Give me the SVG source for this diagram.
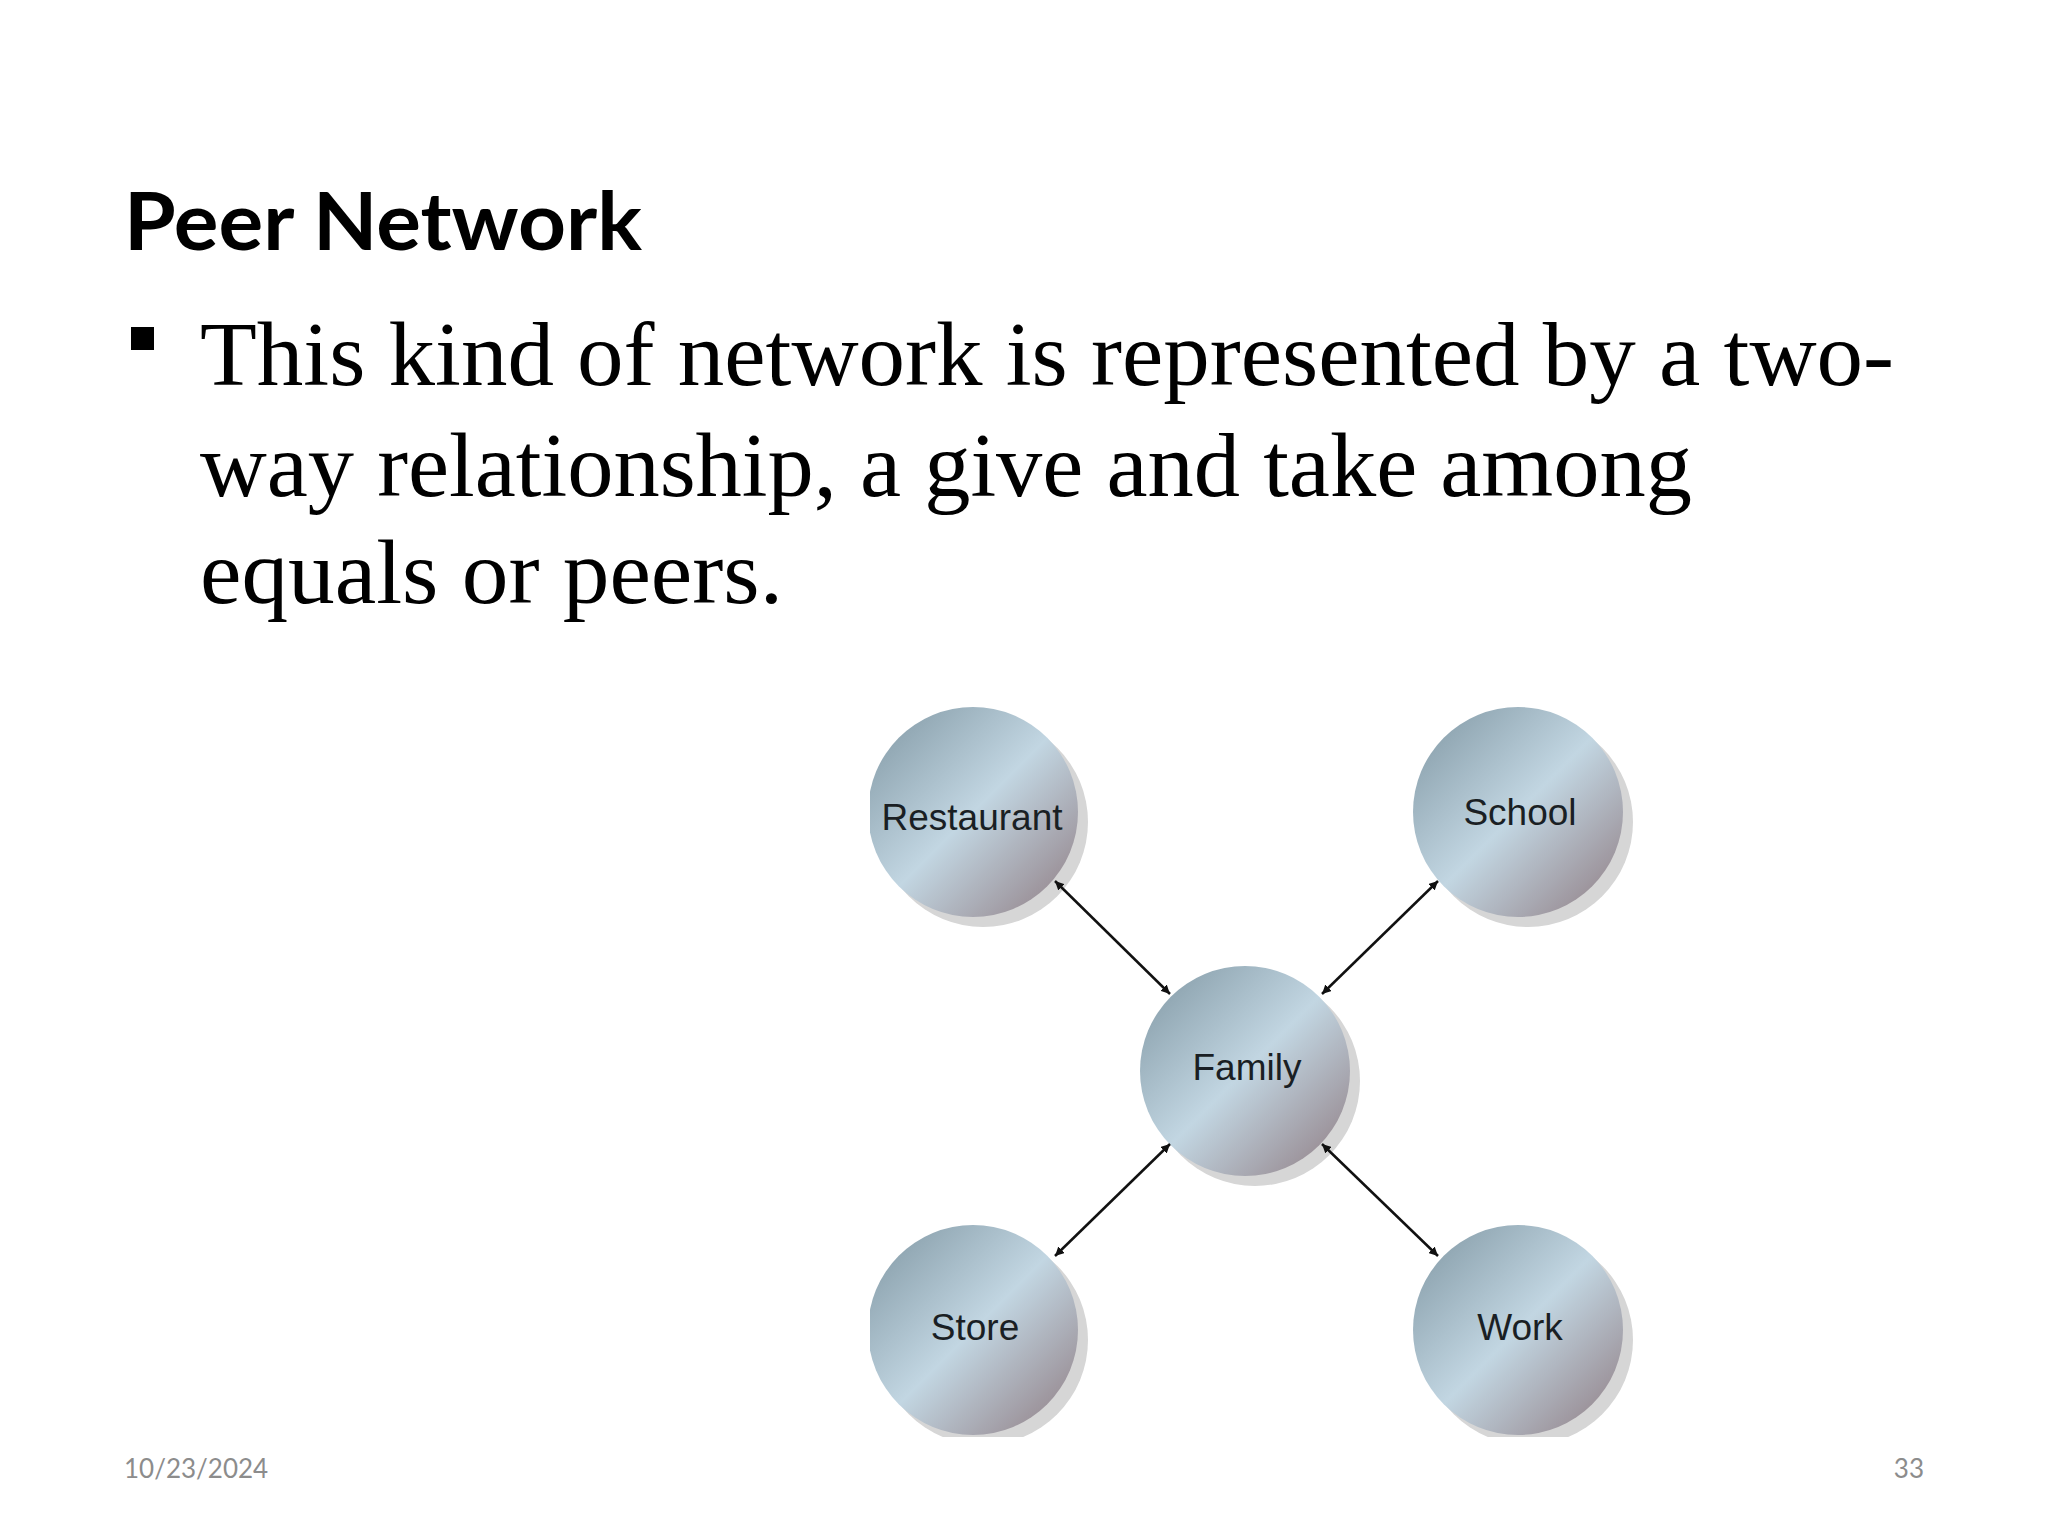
<svg xmlns="http://www.w3.org/2000/svg" width="2048" height="1536" viewBox="0 0 2048 1536">
<style>
.lbl{font-family:"Liberation Sans",Arial,sans-serif;font-size:37px;fill:#1a1f24;text-anchor:middle}
.ball{fill:url(#g)}
.sh{fill:#d6d6d6}
.con{stroke:#111;stroke-width:2.5;fill:none;marker-start:url(#a);marker-end:url(#a)}
</style>
<defs>
<linearGradient id="g" x1="0" y1="0" x2="1" y2="1">
<stop offset="0" stop-color="#7f96a2"/>
<stop offset="0.5" stop-color="#c2d6e2"/>
<stop offset="1" stop-color="#8e7a80"/>
</linearGradient>
<marker id="a" viewBox="0 0 10 10" refX="10" refY="5" markerWidth="9" markerHeight="9" markerUnits="userSpaceOnUse" orient="auto-start-reverse">
<path d="M0,0L10,5L0,10z" fill="#111"/>
</marker>
<marker id="a2" viewBox="0 0 10 10" refX="10" refY="5" markerWidth="10" markerHeight="10" orient="auto-start-reverse"><path d="M0,0L10,5L0,10z" fill="#111"/></marker>
<clipPath id="c"><rect x="870" y="690" width="800" height="747"/></clipPath>
</defs>
<rect width="2048" height="1536" fill="#fff"/>
<text x="124" y="250" font-family="Lato,'Liberation Sans',sans-serif" font-weight="bold" font-size="80" textLength="518" lengthAdjust="spacingAndGlyphs">Peer Network</text>
<rect x="131" y="327" width="23" height="23" fill="#000"/>
<g font-family="'Liberation Serif','Times New Roman',serif" font-size="90" fill="#000">
<text x="200" y="385" textLength="1694" lengthAdjust="spacingAndGlyphs">This kind of network is represented by a two-</text>
<text x="200" y="496" textLength="1492" lengthAdjust="spacingAndGlyphs">way relationship, a give and take among</text>
<text x="200" y="603" textLength="583" lengthAdjust="spacingAndGlyphs">equals or peers.</text>
</g>
<g clip-path="url(#c)">
<g id="restaurant"><circle class="sh" cx="983" cy="822" r="105"/><circle class="ball" cx="973" cy="812" r="105"/><text class="lbl" x="972" y="830">Restaurant</text></g>
<g id="school"><circle class="sh" cx="1528" cy="822" r="105"/><circle class="ball" cx="1518" cy="812" r="105"/><text class="lbl" x="1520" y="825">School</text></g>
<g id="family"><circle class="sh" cx="1255" cy="1081" r="105"/><circle class="ball" cx="1245" cy="1071" r="105"/><text class="lbl" x="1247" y="1080">Family</text></g>
<g id="store"><circle class="sh" cx="983" cy="1340" r="105"/><circle class="ball" cx="973" cy="1330" r="105"/><text class="lbl" x="975" y="1340">Store</text></g>
<g id="work"><circle class="sh" cx="1528" cy="1340" r="105"/><circle class="ball" cx="1518" cy="1330" r="105"/><text class="lbl" x="1520" y="1340">Work</text></g>
</g>
<g id="connectors">
<path class="con" d="M1055,881L1170,994"/>
<path class="con" d="M1438,881L1322,994"/>
<path class="con" d="M1170,1144L1055,1256"/>
<path class="con" d="M1322,1144L1438,1256"/>
</g>
<text x="124" y="1478" font-family="Lato,'Liberation Sans',sans-serif" font-size="26" fill="#8c8c8c">10/23/2024</text>
<text x="1924" y="1478" font-family="Lato,'Liberation Sans',sans-serif" font-size="26" fill="#8c8c8c" text-anchor="end">33</text>
</svg>
